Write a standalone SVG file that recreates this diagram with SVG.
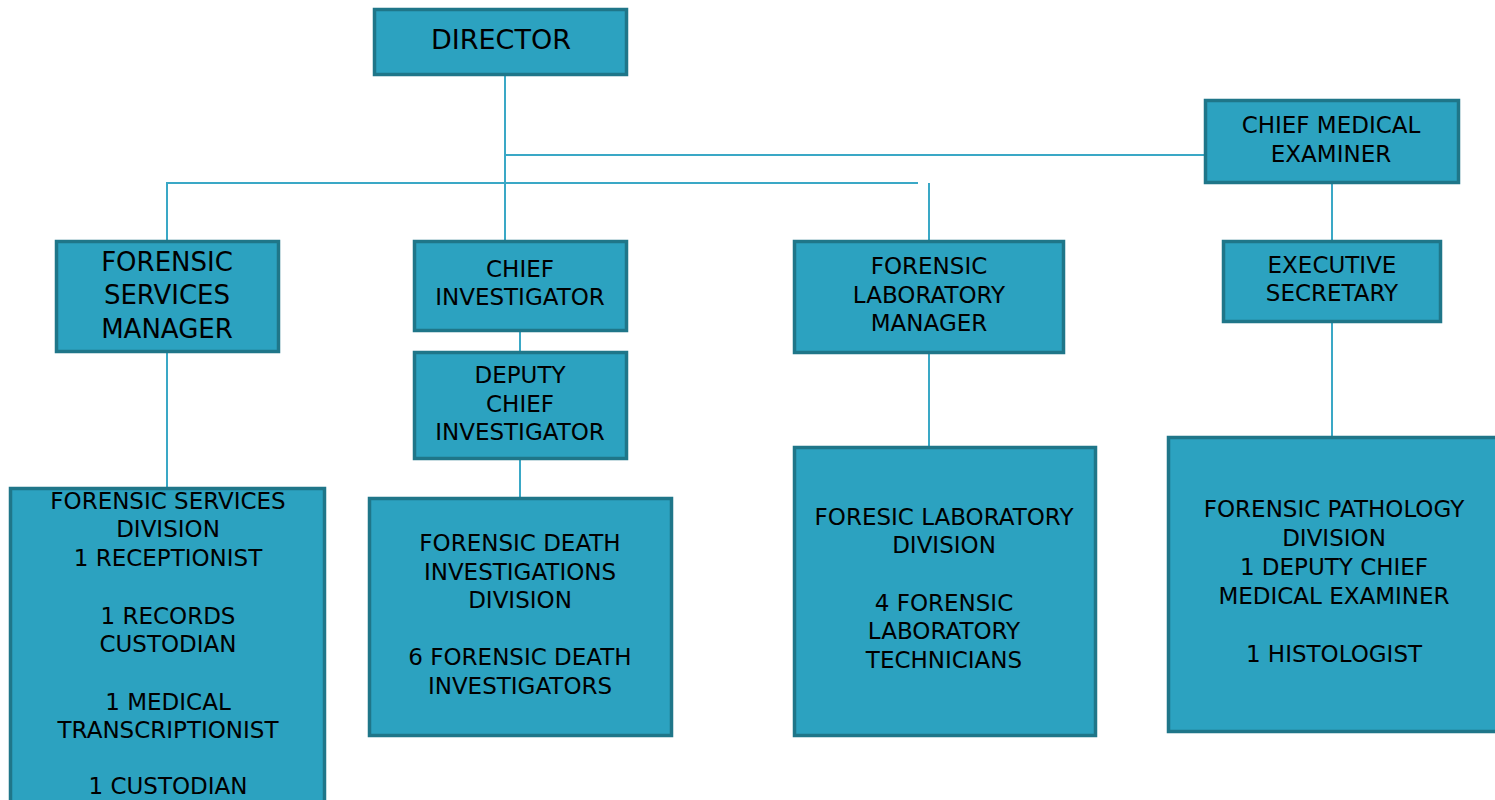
<svg xmlns="http://www.w3.org/2000/svg" width="1495" height="800" viewBox="0 0 1495 800">
<style>
.box{fill:#2ca2c0;stroke:#1f7689;stroke-width:3.5}
.t{font-family:"DejaVu Sans",Verdana,sans-serif;font-size:23px;fill:#000;text-anchor:middle}
.c{stroke:#3aa8c6;stroke-width:2;fill:none}
</style>
<rect width="1495" height="800" fill="#fff"/>
<g id="connectors">
<line class="c" x1="505" y1="76" x2="505" y2="240"/>
<line class="c" x1="505" y1="155" x2="1204" y2="155"/>
<line class="c" x1="167" y1="183" x2="918" y2="183"/>
<line class="c" x1="167" y1="182" x2="167" y2="240"/>
<line class="c" x1="929" y1="183" x2="929" y2="240"/>
<line class="c" x1="167" y1="353" x2="167" y2="487"/>
<line class="c" x1="520" y1="332" x2="520" y2="351"/>
<line class="c" x1="520" y1="460" x2="520" y2="497"/>
<line class="c" x1="929" y1="354" x2="929" y2="446"/>
<line class="c" x1="1332" y1="184" x2="1332" y2="240"/>
<line class="c" x1="1332" y1="323" x2="1332" y2="436"/>
</g>
<g id="director">
<rect class="box" x="374.5" y="9.5" width="252" height="65"/>
<text class="t" x="501" y="49" style="font-size:27px">DIRECTOR</text>
</g>
<g id="chief-medical-examiner">
<rect class="box" x="1205.5" y="100.5" width="253" height="82"/>
<text class="t" x="1331" y="133">CHIEF MEDICAL</text>
<text class="t" x="1331" y="162">EXAMINER</text>
</g>
<g id="forensic-services-manager">
<rect class="box" x="56.5" y="241.5" width="222" height="110"/>
<text class="t" x="167" y="270.5" style="font-size:26px">FORENSIC</text>
<text class="t" x="167" y="303.5" style="font-size:26px">SERVICES</text>
<text class="t" x="167" y="337.5" style="font-size:26px">MANAGER</text>
</g>
<g id="chief-investigator">
<rect class="box" x="414.5" y="241.5" width="212" height="89"/>
<text class="t" x="520" y="277">CHIEF</text>
<text class="t" x="520" y="305">INVESTIGATOR</text>
</g>
<g id="deputy-chief-investigator">
<rect class="box" x="414.5" y="352.5" width="212" height="106"/>
<text class="t" x="520" y="383">DEPUTY</text>
<text class="t" x="520" y="412">CHIEF</text>
<text class="t" x="520" y="440">INVESTIGATOR</text>
</g>
<g id="forensic-laboratory-manager">
<rect class="box" x="794.5" y="241.5" width="269" height="111"/>
<text class="t" x="929" y="274">FORENSIC</text>
<text class="t" x="929" y="303">LABORATORY</text>
<text class="t" x="929" y="331">MANAGER</text>
</g>
<g id="executive-secretary">
<rect class="box" x="1223.5" y="241.5" width="217" height="80"/>
<text class="t" x="1332" y="273">EXECUTIVE</text>
<text class="t" x="1332" y="301">SECRETARY</text>
</g>
<g id="forensic-services-division">
<rect class="box" x="10.5" y="488.5" width="314" height="330"/>
<text class="t" x="168" y="509">FORENSIC SERVICES</text>
<text class="t" x="168" y="537">DIVISION</text>
<text class="t" x="168" y="566">1 RECEPTIONIST</text>
<text class="t" x="168" y="624">1 RECORDS</text>
<text class="t" x="168" y="652">CUSTODIAN</text>
<text class="t" x="168" y="710">1 MEDICAL</text>
<text class="t" x="168" y="738">TRANSCRIPTIONIST</text>
<text class="t" x="168" y="794">1 CUSTODIAN</text>
</g>
<g id="forensic-death-investigations-division">
<rect class="box" x="369.5" y="498.5" width="302" height="237"/>
<text class="t" x="520" y="551">FORENSIC DEATH</text>
<text class="t" x="520" y="580">INVESTIGATIONS</text>
<text class="t" x="520" y="608">DIVISION</text>
<text class="t" x="520" y="665">6 FORENSIC DEATH</text>
<text class="t" x="520" y="694">INVESTIGATORS</text>
</g>
<g id="forensic-laboratory-division">
<rect class="box" x="794.5" y="447.5" width="301" height="288"/>
<text class="t" x="944" y="525">FORESIC LABORATORY</text>
<text class="t" x="944" y="553">DIVISION</text>
<text class="t" x="944" y="611">4 FORENSIC</text>
<text class="t" x="944" y="639">LABORATORY</text>
<text class="t" x="944" y="668">TECHNICIANS</text>
</g>
<g id="forensic-pathology-division">
<rect class="box" x="1168.5" y="437.5" width="340" height="294"/>
<text class="t" x="1334" y="517">FORENSIC PATHOLOGY</text>
<text class="t" x="1334" y="546">DIVISION</text>
<text class="t" x="1334" y="575">1 DEPUTY CHIEF</text>
<text class="t" x="1334" y="604">MEDICAL EXAMINER</text>
<text class="t" x="1334" y="662">1 HISTOLOGIST</text>
</g>
</svg>
